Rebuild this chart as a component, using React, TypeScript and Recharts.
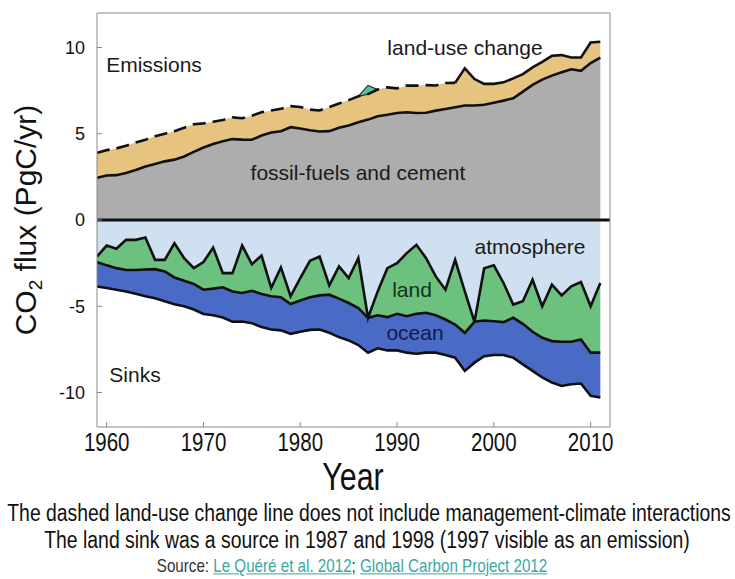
import { AreaChart, Area, Line, XAxis, YAxis, ReferenceLine } from 'recharts'

// Global carbon budget 1959-2011, PgC/yr
const years = Array.from({ length: 53 }, (_, i) => 1959 + i)

const fossilFuel = [
  2.45, 2.58, 2.6, 2.72, 2.9, 3.1, 3.25, 3.4, 3.5, 3.68, 3.95, 4.2, 4.4, 4.57, 4.69, 4.66, 4.65, 4.9,
  5.07, 5.15, 5.38, 5.3, 5.2, 5.13, 5.15, 5.35, 5.48, 5.66, 5.82, 6.02, 6.1, 6.2, 6.25, 6.2, 6.22,
  6.34, 6.44, 6.54, 6.64, 6.64, 6.68, 6.8, 6.92, 7.06, 7.44, 7.83, 8.14, 8.37, 8.56, 8.74, 8.65, 9.1,
  9.42,
]

const landUseChange = [
  1.45, 1.47, 1.55, 1.58, 1.6, 1.55, 1.6, 1.6, 1.65, 1.67, 1.6, 1.4, 1.3, 1.23, 1.26, 1.24, 1.4, 1.35,
  1.28, 1.3, 1.22, 1.25, 1.2, 1.22, 1.4, 1.4, 1.47, 1.51, 1.48, 1.54, 1.59, 1.43, 1.55, 1.59, 1.6,
  1.46, 1.5, 1.41, 2.15, 1.53, 1.21, 1.09, 1.06, 1.15, 1.02, 1.02, 1.03, 1.15, 1.0, 0.68, 0.77, 1.19,
  0.91,
]

const atmosphereSink = [
  2.12, 1.48, 1.67, 1.15, 1.15, 1.02, 2.31, 2.31, 1.35, 2.21, 2.79, 2.44, 1.6, 3.08, 3.08, 1.48, 2.56,
  2.06, 3.94, 2.75, 4.42, 3.37, 2.37, 2.12, 3.79, 2.69, 3.37, 2.21, 5.67, 4.14, 2.79, 2.5, 1.92, 1.44,
  2.21, 3.27, 4.04, 2.31, 4.14, 5.9, 2.8, 2.63, 3.65, 4.9, 4.71, 3.46, 5.0, 3.75, 4.37, 3.85, 3.6, 5.0,
  3.65,
]

const landSink = [
  0.32, 1.15, 1.12, 1.75, 1.75, 1.85, 0.54, 0.67, 1.98, 1.31, 0.92, 1.6, 2.38, 0.82, 1.06, 2.75, 1.54,
  2.23, 0.48, 1.73, 0.45, 1.3, 2.11, 2.25, 0.54, 1.87, 1.44, 2.89, 0, 1.38, 2.84, 2.94, 3.66, 4.0, 3.17,
  2.25, 1.73, 3.75, 2.4, 0, 3.03, 3.24, 2.27, 0.77, 1.31, 3.02, 1.83, 3.27, 2.69, 3.21, 3.32, 2.69,
  4.04,
]

const oceanSink = [
  1.41, 1.31, 1.25, 1.24, 1.37, 1.55, 1.69, 1.73, 1.55, 1.48, 1.48, 1.41, 1.54, 1.75, 1.76, 1.65, 1.88,
  1.92, 1.93, 1.92, 1.73, 1.81, 1.89, 1.98, 2.21, 2.23, 2.17, 2.15, 2.02, 1.92, 1.93, 2.12, 2.11, 2.31,
  2.31, 2.17, 2.06, 1.92, 2.21, 2.37, 2.07, 1.96, 1.91, 2.31, 2.35, 2.27, 2.3, 2.4, 2.56, 2.46, 2.56,
  2.5, 2.6,
]

// land acting as a source, stacked above total emissions
const landSourceYears = [1986, 1987, 1988]
const landSource = [0, 0.5, 0]

const dashedUntil = 1996
const xTicks = [1960, 1970, 1980, 1990, 2000, 2010]
const yTicks = [-10, -5, 0, 5, 10]

const data = years.map((year, i) => {
  const total = fossilFuel[i] + landUseChange[i]
  const s = landSourceYears.indexOf(year)
  const atm = -atmosphereSink[i]
  const landEdge = atm - landSink[i]
  return {
    year,
    fossil: fossilFuel[i],
    landUse: landUseChange[i],
    totalDashed: year <= dashedUntil ? total : null,
    totalSolid: year >= dashedUntil ? total : null,
    source: s >= 0 ? [total, total + landSource[s]] : null,
    atmosphere: atm,
    land: -landSink[i],
    ocean: -oceanSink[i],
    // boundary lines between the stacked sink bands
    atmEdge: atm,
    landEdge,
    oceanEdge: landEdge - oceanSink[i],
  }
})

const FRAME = '#8a8a8a'
const INK = '#111'
const font = '"Liberation Sans", Arial, sans-serif'

const YearTick = ({ x, y, payload }: any) => (
  <g transform={`translate(${x},${y})`}>
    <text
      textAnchor="middle"
      dy="0.71em"
      transform="scale(0.82,1)"
      fontSize={25}
      fontFamily={font}
      fill={INK}
    >
      {payload.value}
    </text>
  </g>
)

const tag = (text: string, left: number, top: number, color = '#1a1a1a') => (
  <div
    style={{
      position: 'absolute',
      left,
      top,
      transform: 'translate(-50%, -50%)',
      whiteSpace: 'nowrap',
      fontSize: 21,
      color,
    }}
  >
    {text}
  </div>
)

const line = (key: string, dash?: string) => (
  <Line
    dataKey={key}
    type="linear"
    stroke={INK}
    strokeWidth={2.6}
    strokeDasharray={dash}
    dot={false}
    activeDot={false}
    isAnimationActive={false}
  />
)

// condensed lettering: regular face squeezed horizontally, centred on `cx`
const squeezed = (cx: number, cy: number, size: number, k: number, body: any, color = INK) => (
  <div
    style={{
      position: 'absolute',
      left: cx,
      top: cy,
      transform: `translate(-50%, -50%) scaleX(${k})`,
      fontSize: size,
      lineHeight: 1.15,
      color,
      whiteSpace: 'nowrap',
    }}
  >
    {body}
  </div>
)

const link = { color: '#3aa7a4', textDecoration: 'underline' }

const App = () => {
  return (
    <div style={{ position: 'relative', width: 735, height: 579, fontFamily: font, background: '#fff', overflow: 'hidden' }}>
      <style>{`body { margin: 0; }`}</style>
      <AreaChart
        width={735}
        height={470}
        data={data}
        margin={{ top: 8, right: 120, bottom: 3, left: 57 }}
      >
        <XAxis
          dataKey="year"
          type="number"
          domain={[1959, 2012]}
          ticks={xTicks}
          allowDataOverflow
          height={40}
          stroke={FRAME}
          tickSize={-5}
          tickMargin={11}
          tick={<YearTick />}
        />
        <XAxis
          xAxisId="top"
          orientation="top"
          type="number"
          domain={[1959, 2012]}
          ticks={xTicks}
          allowDataOverflow
          height={5}
          stroke={FRAME}
          tickSize={-5}
          tickFormatter={() => ''}
        />
        <YAxis
          type="number"
          domain={[-12, 12]}
          ticks={yTicks}
          allowDataOverflow
          width={40}
          stroke={FRAME}
          tickSize={-5}
          tickMargin={17}
          tick={{ fill: INK, fontSize: 18, fontFamily: font }}
        />
        <YAxis
          yAxisId="right"
          orientation="right"
          type="number"
          domain={[-12, 12]}
          ticks={yTicks}
          width={5}
          stroke={FRAME}
          tickSize={-5}
          tickFormatter={() => ''}
        />

        {/* emissions */}
        <Area dataKey="fossil" stackId="emit" type="linear" fill="#adadad" fillOpacity={1} stroke="none" isAnimationActive={false} />
        <Area dataKey="landUse" stackId="emit" type="linear" fill="#e6c47f" fillOpacity={1} stroke="none" isAnimationActive={false} />

        {/* sinks */}
        <Area dataKey="atmosphere" stackId="sink" type="linear" fill="#cfe0f0" fillOpacity={1} stroke="none" isAnimationActive={false} />
        <Area dataKey="land" stackId="sink" type="linear" fill="#6cc17f" fillOpacity={1} stroke="none" isAnimationActive={false} />
        <Area dataKey="ocean" stackId="sink" type="linear" fill="#4a6bc5" fillOpacity={1} stroke="none" isAnimationActive={false} />

        {line('fossil')}
        {line('totalDashed', '13 7')}
        {line('totalSolid')}
        {line('atmEdge')}
        {line('landEdge')}
        {line('oceanEdge')}

        <Area
          dataKey="source"
          type="linear"
          fill="#5fbf98"
          fillOpacity={1}
          stroke="#1d3b2f"
          strokeWidth={1.2}
          isAnimationActive={false}
        />
        <ReferenceLine y={0} stroke={INK} strokeWidth={3} />
      </AreaChart>

      {tag('Emissions', 154, 65)}
      {tag('land-use change', 465, 48)}
      {tag('fossil-fuels and cement', 358, 173)}
      {tag('atmosphere', 530, 247)}
      {tag('land', 412, 290, '#13331c')}
      {tag('ocean', 415, 333, '#121c4a')}
      {tag('Sinks', 135, 375)}

      <div
        style={{
          position: 'absolute',
          left: 28,
          top: 220,
          transform: 'translate(-50%, -50%) rotate(-90deg)',
          whiteSpace: 'nowrap',
          fontSize: 30,
          color: INK,
        }}
      >
        CO<sub style={{ fontSize: 19, verticalAlign: '-0.3em' }}>2</sub> flux (PgC/yr)
      </div>

      {squeezed(353, 478, 38, 0.8, 'Year')}
      {squeezed(369, 513, 23, 0.842, 'The dashed land-use change line does not include management-climate interactions')}
      {squeezed(367, 541, 23.5, 0.825, 'The land sink was a source in 1987 and 1998 (1997 visible as an emission)')}
      {squeezed(
        352,
        566,
        18.5,
        0.82,
        <>
          Source: <span style={link}>Le Quéré et al. 2012</span>; <span style={link}>Global Carbon Project 2012</span>
        </>,
        '#333'
      )}
    </div>
  )
}

export default App
